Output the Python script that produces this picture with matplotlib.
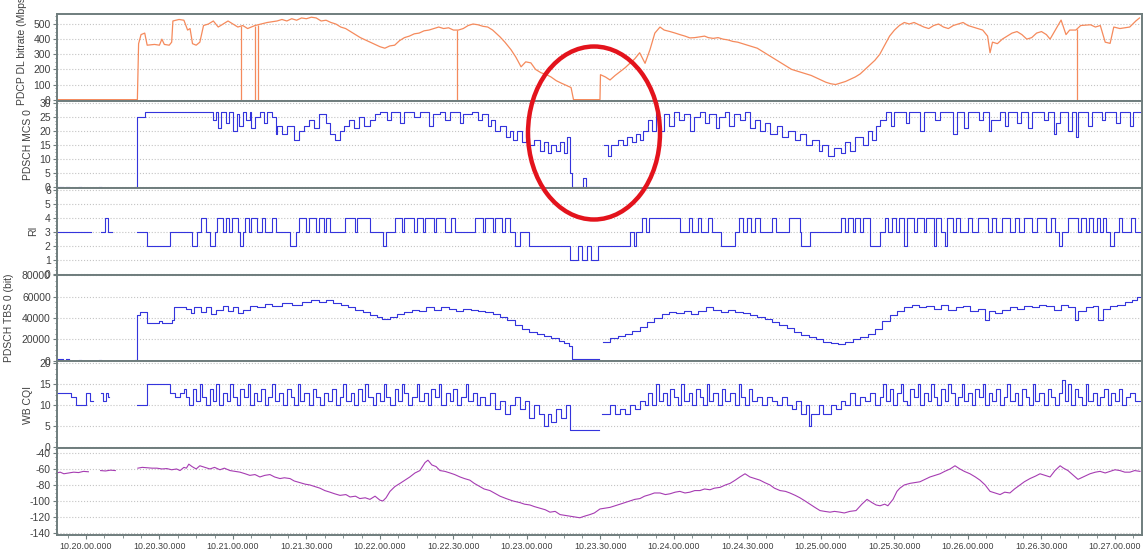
import numpy as np
import matplotlib
matplotlib.use("Agg")
import matplotlib.pyplot as plt
from matplotlib.patches import Ellipse
from matplotlib.ticker import MultipleLocator, FuncFormatter, AutoMinorLocator

plt.rcParams.update({"font.family": ["Liberation Sans", "DejaVu Sans"]})

nan = np.nan

# ---- data : (seconds after 10.20.00, value) ----
# PDCP DL bitrate (Mbps), line
dl_rate = [(-12, 0), (21, 0), (21.5, 370), (22.5, 430), (24, 440), (25, 360), (28, 365), (30, 360),
           (31, 400), (32, 365), (34, 360), (35, 380), (35.5, 520), (38, 530), (40, 525), (41.5, 460),
           (42.5, 470), (43.5, 370), (45, 360), (46.5, 380), (48, 490), (50, 500), (52, 520), (54, 480),
           (56, 500), (58, 520), (60, 500), (62, 480), (64, 490), (66, 470), (69, 490), (71.5, 500),
           (74, 510), (76, 515), (78, 520), (80, 530), (82, 520), (84, 535), (86, 525), (88, 540),
           (90, 535), (92, 545), (94, 540), (96, 520), (98, 525), (100, 510), (102, 500), (104, 480),
           (106, 470), (108, 450), (110, 430), (112, 410), (114, 395), (116, 380), (118, 365), (120, 350),
           (122, 340), (124, 355), (126, 360), (128, 390), (130, 410), (132, 420), (134, 435), (136, 440),
           (138, 455), (140, 460), (142, 470), (144, 480), (146, 470), (148, 475), (150, 460), (152, 460),
           (154, 470), (156, 490), (158, 500), (160, 495), (162, 485), (164, 480), (166, 460), (169, 415),
           (171, 380), (173.5, 330), (175.5, 280), (177.6, 217), (179.5, 250), (181.6, 243), (183.5, 200),
           (185.7, 178), (188, 165), (189.8, 150), (192, 125), (193.9, 110), (196, 95), (198, 80), (199, 0),
           (209.8, 0), (210, 165), (212, 150), (213.9, 130), (216, 160), (218, 185), (220, 210), (222, 240),
           (224, 270), (226, 310), (228.2, 240), (230.2, 330), (232.2, 440), (234.3, 480), (236, 460),
           (238.4, 450), (240.5, 440), (242.4, 430), (244.5, 420), (246.5, 408), (248.5, 410), (250.6, 415),
           (252.5, 420), (254, 410), (256, 405), (258, 410), (260, 400), (262, 395), (264, 385), (266, 380),
           (268, 370), (270, 360), (272, 350), (274, 340), (276, 320), (278, 300), (280, 280), (282, 260),
           (284, 240), (286, 220), (288, 200), (290, 190), (292, 180), (294, 170), (296, 160), (298, 145),
           (300, 130), (302, 115), (304, 105), (306, 100), (308, 110), (310, 120), (312, 135), (314, 150),
           (316, 170), (318, 200), (320, 230), (322, 260), (324, 300), (326, 360), (328, 420), (330, 460),
           (332, 490), (334, 510), (336, 500), (338, 510), (340, 495), (342, 480), (344, 470), (346, 490),
           (348, 500), (350, 480), (352, 470), (354, 490), (356, 500), (358, 510), (360, 490), (362, 480),
           (364, 470), (366, 460), (368, 420), (369, 310), (370, 380), (372, 370), (374, 400), (376, 420),
           (378, 440), (380, 450), (382, 430), (384, 400), (386, 410), (388, 440), (390, 450), (392, 430),
           (393.5, 400), (396, 470), (398, 526), (400, 430), (401.5, 460), (404, 460), (406, 490),
           (410, 495), (412, 480), (414, 490), (416, 380), (418, 372), (419.5, 480), (422, 470), (426, 480),
           (428.5, 520), (430, 540)]
dl_drop_t = [63.3, 69.0, 70.2, 151.4, 404.5]

# PDSCH MCS 0, steps
mcs = [(-11.5, 0), (-9.5, nan), (-8, 0), (-7, nan), (-3, 0), (-2.2, nan), (5.5, 0), (6.3, nan),
       (20.2, 0), (21, 25), (24, 27), (52, 24), (53, 27), (54, 21), (55, 27), (57, 23), (58.5, 27),
       (60, 20), (61.5, 26), (62.5, 22), (64, 27), (65.5, 24), (67, 27), (67.5, 21), (69, 25), (71, 27),
       (72.5, 23), (74, 27), (76, 25), (77.5, 19), (78, 22), (80, 19), (82, 22), (85, 17), (87, 20),
       (89, 22), (91, 24), (93, 21), (95, 26), (98, 23), (99.5, 19), (101.5, 17), (103.5, 20), (105.5, 22),
       (107.5, 24), (109.5, 21), (111.5, 25), (113.5, 22), (116, 24), (118, 26), (120, 27), (123, 24),
       (124.5, 27), (128, 23), (130, 27), (134, 25), (136.5, 27), (140, 22), (141.5, 26), (144.5, 27),
       (146.5, 24), (148.5, 27), (152.5, 23), (154, 26), (157.5, 27), (160, 24), (161.5, 26), (164, 22),
       (165.5, 24), (167, 20), (169, 22), (171.5, 18), (173, 20), (174.5, 17), (176, 20), (178, 16),
       (179.5, 19), (181, 15), (183, 17), (185.5, 13), (187, 16), (188.5, 12), (190, 15), (192, 13),
       (193.5, 16), (195, 12), (196.5, 18), (197.5, 5), (198.5, 0), (203, 3), (204, 0), (209.5, nan),
       (211.5, 15), (213, 11), (214.5, 15), (217, 17), (219, 15), (221, 18), (223, 16), (224.5, 19),
       (226, 17), (227.5, 20), (229.5, 24), (231, 20), (232.5, 27), (234, 20), (236, 26), (238, 22),
       (240, 27), (242, 24), (244, 26), (246.5, 20), (248, 25), (250.5, 27), (252.5, 23), (254.5, 26),
       (257, 21), (258.5, 25), (261, 27), (262.5, 22), (264.5, 26), (267, 24), (269, 27), (271, 21),
       (273, 24), (275, 20), (277, 23), (279, 19), (282, 22), (284, 18), (286.5, 20), (289.5, 17),
       (291.5, 19), (294, 15), (296.5, 17), (299, 13), (300.5, 15), (303, 11), (305.5, 14), (308, 12),
       (310, 16), (312, 13), (314, 18), (317, 15), (319, 20), (321, 17), (322.5, 22), (324, 24),
       (326.5, 27), (328.5, 22), (330, 27), (334.5, 23), (336, 27), (340.5, 20), (342, 27), (346.5, 24),
       (348.5, 27), (354, 19), (355.5, 27), (358.5, 21), (360, 27), (364.5, 24), (366, 27), (368.5, 20),
       (369.5, 24), (373, 27), (375, 22), (376.5, 27), (380, 23), (381.5, 27), (384.5, 21), (386, 27),
       (391, 24), (392.5, 27), (395, 19), (396, 23), (397.5, 27), (401, 20), (402.5, 27), (404, 18),
       (405, 27), (409, 22), (410.5, 27), (414.5, 24), (416, 27), (420.5, 23), (422, 27), (426, 22),
       (427.5, 27), (430, 27)]

# RI, steps
ri = [(-12, 3), (2, nan), (6, 3), (7.8, 4), (9, 3), (10.5, nan), (21, 3), (25, 2), (34.3, 3), (43.3, 2),
      (45.3, 3), (47, 4), (49, 3), (50.5, 2), (52.5, 3), (53.5, 4), (56, 3), (57, 4), (58.5, 3), (59.5, 4),
      (62, 3), (63, 2), (64, 3), (65, 4), (66.5, 3), (67.5, 4), (70, 3), (71.8, 4), (73, 3), (76, 4),
      (77.5, 3), (83.3, 2), (85.7, 3), (87, 4), (90, 3), (91, 4), (94, 3), (95, 4), (97, 3), (98, 4),
      (99.6, 3), (105.7, 4), (110, 3), (110.8, 4), (116, 3), (121.2, 2), (122.4, 3), (126, 4), (129, 3),
      (130, 4), (134, 3), (135, 4), (137.5, 3), (138.5, 4), (142, 3), (143, 4), (146.5, 3), (149, 4),
      (150.5, 3), (158.8, 4), (162, 3), (163, 4), (166, 3), (167, 4), (170, 3), (171, 4), (173, 3),
      (175, 2), (177, 3), (181, 2), (197.5, 1), (201, 2), (202.5, 1), (204.5, 2), (206, 1), (209, 2),
      (222, 3), (223.5, 2), (224.5, 3), (227, 4), (228.5, 3), (230, 4), (232, 4), (242.5, 3), (246, 4),
      (247.5, 3), (250, 4), (251, 3), (254, 4), (255.5, 3), (259, 2), (265, 3), (266.5, 4), (268, 3),
      (270, 4), (271.5, 3), (273, 4), (275, 3), (280, 4), (281.5, 3), (287, 4), (291.5, 3), (292, 2),
      (295.5, 3), (308, 4), (310, 3), (311, 4), (313, 3), (314, 4), (316, 3), (317, 4), (320, 2),
      (324, 3), (326, 4), (327.5, 3), (329, 4), (330.5, 3), (332, 4), (334, 2), (335, 4), (338, 3),
      (339, 4), (342, 3), (343, 4), (346, 2), (347, 4), (349, 3), (350.5, 2), (351.5, 4), (354, 3),
      (355, 4), (356.7, 3), (360, 4), (361.5, 3), (364, 4), (368, 3), (370, 4), (371.5, 3), (374, 4),
      (377, 3), (379, 4), (381, 3), (383, 4), (386, 3), (388, 4), (392, 3), (394, 4), (395.5, 3),
      (397, 2), (398.5, 3), (401, 4), (405, 3), (406, 4), (408, 3), (409.5, 4), (411, 3), (412.5, 4),
      (414, 3), (415, 4), (416.5, 3), (418, 2), (419.5, 3), (421.5, 4), (423, 3), (426.5, 4), (428, 3),
      (430, 3)]

# PDSCH TBS 0 (kbit), steps
tbs_k = [(-11.5, 1.5), (-9.5, nan), (-8, 1.5), (-7, nan), (-3, 1), (-2.2, nan), (5.5, 1), (6.3, nan),
         (20.2, 1), (21, 43), (22, 46), (25, 35), (30, 37), (31, 35), (35, 38), (36, 50), (41, 49),
         (43, 45), (44, 50), (47, 46), (49, 50), (51, 44), (53, 48), (56, 51), (58, 47), (60, 50),
         (62, 45), (64, 48), (67, 51), (70, 50), (73, 53), (76, 51), (80, 54), (84, 52), (88, 55),
         (92, 57), (95, 55), (98, 57), (101, 54), (104, 52), (107, 50), (110, 48), (113, 46), (116, 43),
         (119, 41), (121, 39), (124, 41), (127, 44), (130, 46), (133, 48), (136, 47), (139, 50),
         (142, 48), (145, 50), (148, 49), (151, 47), (154, 49), (157, 48), (160, 47), (163, 46),
         (166, 44), (169, 41), (172, 38), (175, 34), (178, 30), (181, 27), (184, 25), (187, 23),
         (190, 21), (193, 19), (195, 17), (197, 14), (198.5, 2), (209.5, nan), (211, 18), (214, 21),
         (217, 23), (220, 25), (223, 28), (226, 32), (229, 36), (232, 40), (235, 44), (238, 46),
         (241, 45), (244, 47), (247, 44), (250, 47), (253, 50), (256, 48), (259, 46), (262, 48),
         (265, 46), (268, 45), (271, 43), (274, 41), (277, 39), (280, 36), (283, 34), (286, 31),
         (289, 27), (292, 24), (295, 22), (298, 20), (301, 18), (304, 17), (307, 16), (310, 18),
         (313, 20), (316, 22), (319, 25), (322, 30), (325, 37), (328, 43), (331, 47), (334, 50),
         (337, 52), (340, 50), (343, 51), (346, 49), (349, 52), (352, 48), (355, 50), (358, 51),
         (361, 47), (364, 49), (367, 38), (368.5, 47), (371, 45), (374, 48), (377, 50), (380, 49),
         (383, 51), (386, 50), (389, 52), (392, 51), (395, 48), (398, 52), (401, 50), (403.5, 38),
         (405, 47), (408, 50), (411, 51), (413, 38), (415, 49), (418, 51), (421, 52), (424, 55),
         (427, 57), (429, 60), (430, 60)]

# WB CQI, steps
cqi = [(-12, 13), (-6, 12), (-4, 10), (0, 13), (1.5, 11), (3, nan), (6, 13), (7, 11), (8, 13), (9, 12),
       (9.5, nan), (21, 10), (25, 15), (34.5, 13), (36.5, 12), (38.5, 13), (40, 14), (41, 12), (42, 10),
       (43.5, 14), (45, 11), (46.5, 15), (47.5, 12), (49, 10), (50.5, 14), (52, 11), (53, 15), (54.5, 10),
       (56, 13), (57.5, 11), (59, 15), (60, 12), (61.5, 10), (63, 14), (64.5, 12), (66, 15), (67, 10),
       (68.5, 13), (70, 11), (71.5, 14), (73, 10), (74.5, 12), (76, 15), (77, 11), (79, 13), (80.5, 10),
       (82, 14), (83.5, 12), (85, 10), (86.5, 15), (87.5, 11), (89, 13), (91, 10), (92.5, 14), (94, 12),
       (95.5, 10), (97, 13), (99, 11), (100.5, 14), (102, 10), (103.5, 12), (105, 15), (106, 11),
       (108, 13), (109.5, 10), (111, 14), (112.5, 11), (114, 15), (115, 12), (117, 10), (118.5, 13),
       (120, 11), (121.5, 15), (122.5, 12), (124, 10), (126, 14), (127.5, 11), (129, 15), (130, 13),
       (131.5, 10), (133, 12), (135, 15), (136, 11), (138, 13), (139.5, 10), (141, 14), (142.5, 12),
       (144, 15), (145, 10), (147, 13), (148.5, 11), (150, 14), (151.5, 10), (153, 12), (155, 15),
       (156, 11), (158, 13), (159.5, 10), (161, 12), (163, 10), (165, 13), (167, 9), (169, 11), (171, 8),
       (173, 10), (175, 12), (177, 9), (179, 11), (181, 7), (183, 10), (185, 8), (187, 5), (188.5, 8),
       (190, 6), (192, 9), (194, 7), (196, 10), (197.5, 4), (209.5, nan), (210.5, 8), (214, 10),
       (216, 8), (218, 9), (220, 8), (222, 10), (224, 9), (226, 11), (228, 10), (229.5, 13), (231, 10),
       (232.5, 15), (234, 11), (235.5, 13), (237, 10), (238.5, 14), (240, 12), (241.5, 10), (243, 15),
       (244, 11), (246, 13), (247.5, 10), (249, 14), (250.5, 12), (252, 10), (253.5, 15), (254.5, 11),
       (256, 13), (258, 10), (259.5, 14), (261, 11), (263, 13), (265, 10), (266.5, 15), (267.5, 12),
       (269, 10), (270.5, 14), (272, 11), (274, 12), (276, 10), (278, 12), (280, 11), (282, 10),
       (284, 12), (286, 10), (288, 9), (290, 11), (292, 8), (294, 10), (295, 5), (296, 8), (299, 10),
       (301, 8), (304, 10), (306, 9), (308, 11), (310, 10), (312, 13), (314, 10), (316, 12), (318, 11),
       (320, 13), (322, 10), (324, 12), (325.5, 15), (326.5, 11), (328, 14), (329.5, 10), (331, 13),
       (332.5, 15), (333.5, 11), (335, 10), (336.5, 14), (338, 12), (339.5, 15), (340.5, 10), (342, 13),
       (343.5, 11), (345, 15), (346, 12), (347.5, 10), (349, 14), (350.5, 11), (352, 15), (353, 13),
       (354.5, 10), (356, 12), (357.5, 15), (358.5, 11), (360, 13), (361.5, 10), (363, 14), (364.5, 12),
       (366, 15), (367, 10), (368.5, 13), (370, 11), (371.5, 14), (373, 10), (374.5, 12), (376, 15),
       (377, 11), (379, 13), (380.5, 10), (382, 14), (383.5, 12), (385, 10), (386.5, 15), (387.5, 11),
       (389, 13), (391, 10), (392.5, 14), (394, 12), (395.5, 10), (397, 13), (398.5, 16), (399.5, 11),
       (401, 15), (402, 10), (403.5, 14), (405, 12), (406.5, 10), (408, 15), (409, 11), (411, 13),
       (412.5, 10), (414, 12), (415.5, 14), (417, 10), (418.5, 13), (420, 11), (421.5, 14), (423, 10),
       (424.5, 12), (426, 13), (428, 11), (430, 11)]

# bottom panel (dBm), line
rsrp = [(-12, -65), (-10.5, -64), (-9, -66), (-7, -65), (-5, -64), (-3, -64.5), (-1, -63), (1, -63.5),
        (2, nan), (6, -62), (8, -62.5), (10, -61.5), (12, -62), (12.5, nan), (21.2, -59), (23, -58),
        (25, -58.5), (27, -59), (29, -59), (31, -60), (33, -59.5), (35, -61), (37, -60), (38.4, -62),
        (40, -58), (41, -59), (42, -54), (43.3, -57), (45, -60), (46.5, -56), (48.5, -58), (50.6, -60),
        (52.5, -58), (54.7, -61), (56.5, -59), (58.8, -62), (61, -63), (62.9, -64), (65, -66),
        (66.9, -68), (69, -67), (71, -70), (73, -68), (75.1, -67), (77, -70), (79.2, -72), (81, -71),
        (83.3, -72), (85, -75), (87.3, -77), (89.5, -79), (91.4, -80), (93.5, -82), (95.5, -84),
        (97.5, -87), (99.6, -89), (101.5, -91), (103.7, -93), (106.1, -92), (107.8, -95), (110, -94),
        (111.8, -97), (114, -96), (115.9, -98), (118, -94), (120, -99), (121.2, -100), (122.5, -96),
        (124.1, -88), (126.1, -82), (128.2, -78), (130.2, -74), (132.2, -70), (134.3, -65), (136.3, -62),
        (138.4, -52), (139.6, -49), (141.2, -55), (142.9, -57), (144.5, -62), (146.5, -63), (148.6, -65),
        (150.5, -67), (152.7, -70), (154.5, -72), (156.7, -74), (158.5, -78), (160.8, -82), (162.5, -85),
        (164.9, -87), (167.8, -92), (169, -94), (171.5, -97), (174.3, -100), (177.1, -102), (179, -104),
        (181.2, -105), (183, -107), (185.3, -109), (187.5, -111), (189.4, -114), (191.5, -113),
        (193.5, -117), (195.5, -118), (197.6, -119), (199.5, -120), (201.6, -121), (203.5, -119),
        (205.7, -117), (207.5, -115), (209.8, -110), (212, -109), (213.9, -108), (216, -106),
        (218, -104), (220, -102), (222, -100), (224, -98), (226.1, -97), (228, -94), (230.2, -92),
        (232, -90), (234.3, -90), (236.5, -92), (238.4, -91), (240.5, -89), (242.4, -88), (244.5, -90),
        (246.5, -89), (248.5, -87), (250.6, -87), (252.5, -85), (254.7, -86), (256.5, -84), (258.8, -83),
        (261, -80), (262.9, -78), (265, -74), (266.9, -70), (269, -66), (271, -70), (273, -72),
        (275.1, -74), (277, -77), (279.2, -80), (281, -84), (283.3, -87), (285.5, -88), (287.3, -90),
        (289.5, -93), (291.4, -96), (293.5, -100), (295.5, -104), (297.5, -108), (299.6, -112),
        (301.5, -113), (303.7, -114), (305.5, -113), (307.8, -114), (309.5, -115), (311.8, -113),
        (314.3, -112), (316.7, -104), (318.8, -98), (320.8, -102), (322.5, -105), (324.1, -106),
        (326, -104), (327.3, -106), (329.4, -98), (331, -88), (332.2, -84), (334, -80), (336.3, -78),
        (338.5, -77), (340.4, -76), (342.5, -73), (344.5, -70), (346.5, -68), (348.6, -66), (350.5, -63),
        (352.7, -60), (354.7, -56), (356.7, -60), (358.5, -63), (360.8, -66), (363, -70), (364.9, -74),
        (367, -80), (369, -88), (371, -90), (373.1, -92), (375, -89), (377.1, -90), (379, -85),
        (381.2, -80), (383, -76), (385.3, -72), (387.5, -69), (389.4, -66), (391.5, -68), (393.5, -70),
        (395.5, -62), (397.6, -56), (399, -59), (400.8, -62), (403, -68), (404.9, -73), (407, -70),
        (409.8, -66), (412, -64), (413.9, -63), (416, -65), (418, -63), (420, -61), (422, -62),
        (424, -64), (426.1, -64), (428, -62), (430.2, -63)]

ylabels = ["PDCP DL bitrate (Mbps)", "PDSCH MCS 0", "RI", "PDSCH TBS 0 (bit)", "WB CQI", ""]

# ---- figure ----
ORANGE = "#f58a5c"
BLUE = "#3434dc"
PURPLE = "#a63cb2"
SPINE = "#6f7d7d"
TXT = "#404040"

fig, axes = plt.subplots(6, 1, figsize=(11.47, 5.5), dpi=100, sharex=True,
                         gridspec_kw={"hspace": 0})
fig.subplots_adjust(left=0.0497, right=0.9956, top=0.9745, bottom=0.0273)


def xy(pairs):
    a = np.array(pairs, dtype=float)
    return a[:, 0], a[:, 1]


t, v = xy(dl_rate)
axes[0].plot(t, v, color=ORANGE, lw=0.9)
axes[0].vlines(dl_drop_t, 0, np.interp(dl_drop_t, t, v), color=ORANGE, lw=0.9)

t, v = xy(mcs)
axes[1].plot(t, v, color=BLUE, lw=0.8, drawstyle="steps-post")
t, v = xy(ri)
axes[2].plot(t, v, color=BLUE, lw=0.8, drawstyle="steps-post")
t, v = xy(tbs_k)
axes[3].plot(t, v * 1000, color=BLUE, lw=0.8, drawstyle="steps-post")
t, v = xy(cqi)
axes[4].plot(t, v, color=BLUE, lw=0.8, drawstyle="steps-post")
t, v = xy(rsrp)
axes[5].plot(t, v, color=PURPLE, lw=0.8)

ylims = [(-8, 566), (-0.3, 30.9), (-0.07, 6.14), (-500, 80900), (-0.25, 20.5), (-142.5, -34)]
ysteps = [100, 5, 1, 20000, 5, 20]
label_x = [-0.0276, -0.0221, -0.0175, -0.0396, -0.0225, -0.02]
label_y = [0.6, 0.5, 0.5, 0.5, 0.5, 0.5]

for ax, yl, st, lab, lx, ly in zip(axes, ylims, ysteps, ylabels, label_x, label_y):
    ax.set_ylim(*yl)
    ax.yaxis.set_major_locator(MultipleLocator(st))
    ax.yaxis.set_minor_locator(AutoMinorLocator(4))
    ax.yaxis.set_major_formatter(FuncFormatter(lambda y, p: f"{y:.0f}"))
    ax.grid(axis="y", which="major", ls=":", color="#c4c4c4", lw=0.8)
    ax.tick_params(axis="y", which="major", labelsize=7.5, labelcolor=TXT, color=SPINE,
                   length=3, pad=1.5)
    ax.tick_params(axis="y", which="minor", color=SPINE, length=1.5)
    ax.tick_params(axis="x", which="both", bottom=False, labelbottom=False)
    for s in ax.spines.values():
        s.set_color(SPINE)
        s.set_linewidth(1.4)
    ax.set_ylabel(lab, fontsize=7.5, color=TXT)
    ax.yaxis.set_label_coords(lx, ly)

ax = axes[-1]
ax.set_xlim(-11.8, 431)
ax.xaxis.set_major_locator(MultipleLocator(30))
ax.xaxis.set_minor_locator(MultipleLocator(7.5))


def clock(x, pos):
    m, s = divmod(20 * 60 + int(round(x)), 60)
    return f"10.{m:02d}.{s:02d}.000"


ax.xaxis.set_major_formatter(FuncFormatter(clock))
ax.tick_params(axis="x", which="major", bottom=True, labelbottom=True, labelsize=6.4,
               labelcolor=TXT, color=SPINE, length=3, pad=2)
ax.tick_params(axis="x", which="minor", bottom=True, color=SPINE, length=2)

# red highlight ring
fig.add_artist(Ellipse((594 / 1147, 1 - 133 / 550), 132 / 1147, 173 / 550,
                       transform=fig.transFigure, fill=False, ec="#e3131c", lw=3.2))

fig.savefig("out.png", dpi=100)
